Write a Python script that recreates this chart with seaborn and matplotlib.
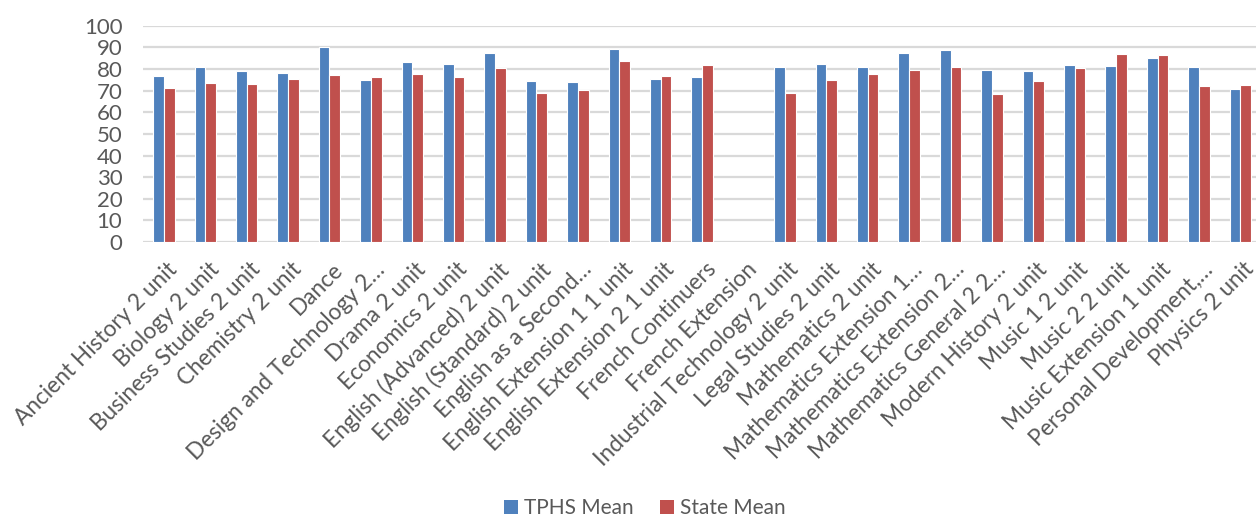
import numpy as np
import pandas as pd
import matplotlib
matplotlib.use("Agg")
import matplotlib.pyplot as plt
import matplotlib.transforms as mtransforms
import seaborn as sns
from matplotlib.patches import Patch

categories = [
    "Ancient History 2 unit", "Biology 2 unit", "Business Studies 2 unit",
    "Chemistry 2 unit", "Dance", "Design and Technology 2…", "Drama 2 unit",
    "Economics 2 unit", "English (Advanced) 2 unit", "English (Standard) 2 unit",
    "English as a Second…", "English Extension 1 1 unit", "English Extension 2 1 unit",
    "French Continuers", "French Extension", "Industrial Technology 2 unit",
    "Legal Studies 2 unit", "Mathematics 2 unit", "Mathematics Extension 1…",
    "Mathematics Extension 2…", "Mathematics General 2 2…", "Modern History 2 unit",
    "Music 1 2 unit", "Music 2 2 unit", "Music Extension 1 unit",
    "Personal Development,…", "Physics 2 unit",
]
tphs_mean = [76.7, 80.9, 78.9, 78.2, 90.0, 74.8, 83.3, 82.3, 87.3, 74.4, 73.9, 89.2,
             75.3, 76.4, np.nan, 80.9, 82.4, 80.9, 87.5, 89.0, 79.6, 79.0, 81.8,
             81.6, 85.2, 81.0, 70.8]
state_mean = [71.1, 73.6, 73.1, 75.5, 77.2, 76.4, 77.9, 76.5, 80.6, 68.7, 70.4, 83.8,
              76.9, 82.1, np.nan, 68.8, 75.0, 77.8, 79.6, 80.9, 68.4, 74.4, 80.7,
              86.9, 86.3, 72.1, 72.5]
series_names = ["TPHS Mean", "State Mean"]
y_ticks = list(range(0, 101, 10))

colors = ["#4F81BD", "#C0504D"]

df = pd.DataFrame({
    "Subject": categories * 2,
    "Series": [series_names[0]] * len(categories) + [series_names[1]] * len(categories),
    "Mean": tphs_mean + state_mean,
})

sns.set_theme(style="white")
plt.rcParams["font.family"] = ["Lato", "DejaVu Sans"]

fig = plt.figure(figsize=(12.56, 5.17), dpi=100)
ax = fig.add_axes([0.114, 0.532, 0.89, 0.418])

sns.barplot(data=df, x="Subject", y="Mean", hue="Series", order=categories,
            hue_order=series_names, palette=colors, width=0.52, ax=ax,
            edgecolor="white", linewidth=0.8, saturation=1, legend=False)

ax.set_ylim(0, 100)
ax.set_xlim(-0.5, len(categories) - 0.5)
ax.set_yticks(y_ticks)
ax.yaxis.grid(True, color="#d9d9d9", linewidth=1.6)
ax.set_axisbelow(True)
for s in ax.spines.values():
    s.set_visible(False)
ax.set_xlabel("")
ax.set_ylabel("")
ax.tick_params(axis="y", labelsize=16, colors="#595959", length=0, pad=15)
ax.tick_params(axis="x", length=0, pad=12)
ax.set_xticks(range(len(categories)))
ax.set_xticklabels(categories, rotation=45, ha="right", rotation_mode="anchor",
                   fontsize=16.3, color="#595959")
offset = mtransforms.ScaledTranslation(3 / 100, 0, fig.dpi_scale_trans)
for lab in ax.get_xticklabels():
    lab.set_transform(lab.get_transform() + offset)

handles = [Patch(facecolor=c, edgecolor="none") for c in colors]
fig.legend(handles, series_names, loc="center", bbox_to_anchor=(0.5135, 0.017),
           ncol=2, frameon=False, fontsize=15, handlelength=0.67, handleheight=0.67,
           handletextpad=0.3, columnspacing=1.25, labelcolor="#595959",
           borderpad=0, borderaxespad=0)

fig.savefig("out.png", dpi=100)
